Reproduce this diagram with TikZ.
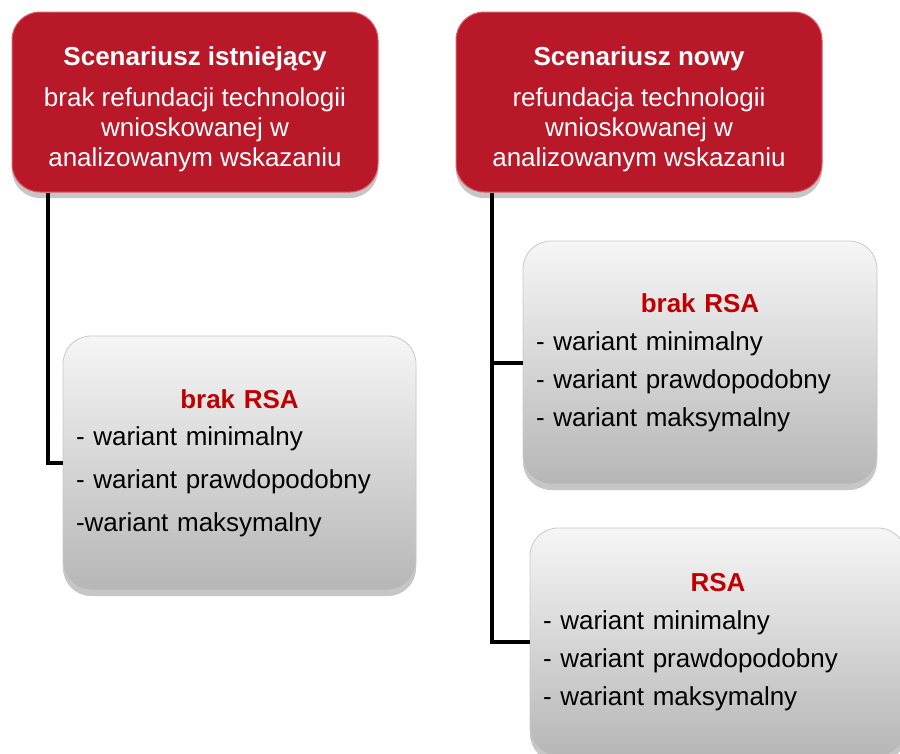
\documentclass[tikz,border=0pt]{standalone}
\usepackage{fontspec}
\setmainfont{Liberation Sans}
\usepackage{tikz}
\usetikzlibrary{
  positioning,
  calc,
  shadows
}
\definecolor{scenred}{RGB}{184,24,40}
\definecolor{scenrim}{RGB}{222,92,104}
\definecolor{rsared}{RGB}{192,0,0}
\definecolor{boxtop}{RGB}{246,246,246}
\definecolor{boxbot}{RGB}{182,182,182}
\definecolor{boxrim}{RGB}{200,200,200}
\tikzset{
  scenbox/.style={draw=scenrim, line width=1pt, fill=scenred, rounded corners=28pt,
    minimum width=366pt, minimum height=180pt, text=white, align=center,
    font=\fontsize{26}{30}\selectfont,
    drop shadow={opacity=0.45, shadow xshift=0pt, shadow yshift=-6pt}},
  varbox/.style={draw=boxrim, line width=0.8pt, top color=boxtop, bottom color=boxbot,
    rounded corners=28pt, inner xsep=13pt, align=left,
    font=\fontsize{26}{38}\selectfont,
    drop shadow={opacity=0.45, shadow xshift=0pt, shadow yshift=-6pt}},
  link/.style={line width=4pt, black}
}
\newcommand{\rsahead}[1]{\makebox[\linewidth]{\textcolor{rsared}{\bfseries #1}}}
\newcommand{\topgap}{\rule{0pt}{34pt}}

\begin{document}
\begin{tikzpicture}[x=1pt, y=-1pt]
  \useasboundingbox (0,0) rectangle (900,753);

  % scenarios
  \node[scenbox] (scenOld) at (195,102)
    {\topgap{\bfseries Scenariusz istniejący}\\[11pt]
     brak refundacji technologii\\ wnioskowanej w\\ analizowanym wskazaniu};
  \node[scenbox] (scenNew) at (639,102)
    {\topgap{\bfseries Scenariusz nowy}\\[11pt]
     refundacja technologii\\ wnioskowanej w\\ analizowanym wskazaniu};

  % variants
  \node[varbox, text width=327pt, minimum height=254pt] (oldNoRsa) at (239.5,463)
    {\rsahead{brak RSA}\\[-1pt]
     - wariant minimalny\\[5pt]
     - wariant prawdopodobny\\[5pt]
     -wariant maksymalny};
  \node[varbox, text width=328pt, minimum height=243pt] (newNoRsa) at (700,362.5)
    {\rsahead{brak RSA}\\
     - wariant minimalny\\
     - wariant prawdopodobny\\
     - wariant maksymalny};
  \node[varbox, text width=350pt, minimum height=228pt] (newRsa) at (718,642)
    {\rsahead{RSA}\\
     - wariant minimalny\\
     - wariant prawdopodobny\\
     - wariant maksymalny};

  % connectors
  \coordinate (oldTrunk) at ([xshift=36pt]scenOld.south west);
  \coordinate (newTrunk) at ([xshift=36pt]scenNew.south west);
  \draw[link] (oldTrunk) |- (oldNoRsa.west);
  \draw[link] (newTrunk) |- (newNoRsa.west);
  \draw[link] (newTrunk) |- (newRsa.west);
\end{tikzpicture}
\end{document}
